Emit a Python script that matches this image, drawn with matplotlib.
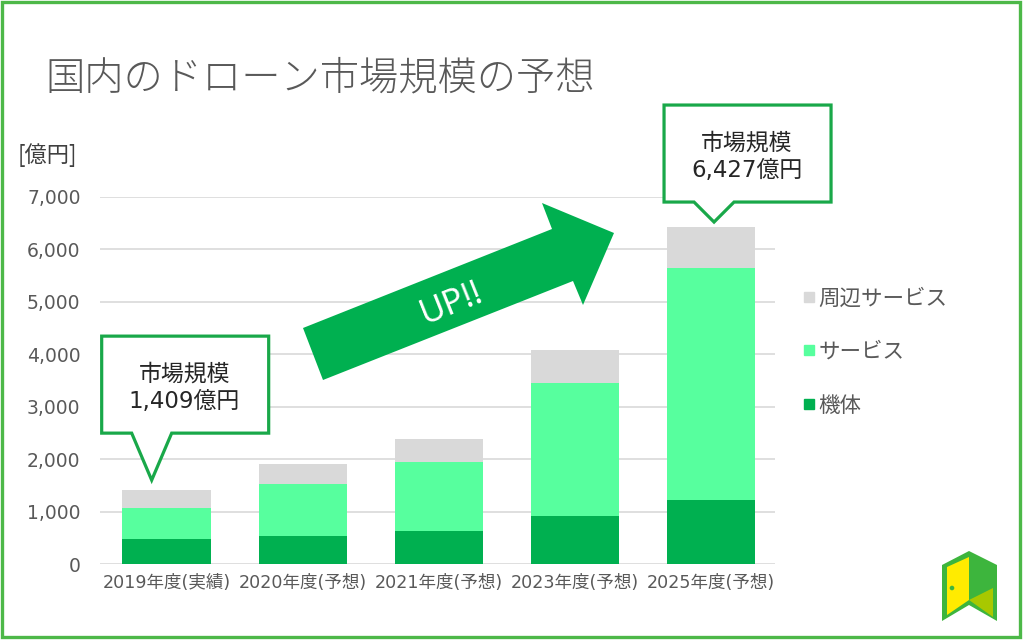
import matplotlib
matplotlib.use('Agg')
import matplotlib.pyplot as plt
from matplotlib.patches import Polygon, Rectangle, Circle
from matplotlib.lines import Line2D
from matplotlib.ticker import FuncFormatter
import numpy as np

plt.rcParams['font.family'] = ['Noto Sans CJK JP', 'DejaVu Sans']
num_font = ['DejaVu Sans', 'Noto Sans CJK JP']

# data (億円)
years = ['2019年度(実績)', '2020年度(予想)', '2021年度(予想)', '2023年度(予想)', '2025年度(予想)']
kitai = [470, 530, 620, 920, 1220]        # 機体
service = [600, 990, 1330, 2540, 4420]    # サービス
shuhen = [339, 395, 440, 630, 787]        # 周辺サービス

c_dark = '#00B050'
c_light = '#57FF9E'
c_gray = '#D9D9D9'
c_text = '#595959'
c_frame = '#4DB848'
c_call = '#19A849'

W, H = 1024, 642
fig = plt.figure(figsize=(W / 100, H / 100), dpi=100)
fig.patch.set_facecolor('white')

ax = fig.add_axes([100 / W, 1 - 564 / H, 675 / W, (564 - 197) / H])
x = np.arange(len(years))
kitai = np.array(kitai)
service = np.array(service)
shuhen = np.array(shuhen)
total = kitai + service + shuhen

ax.bar(x, kitai, width=0.65, color=c_dark, zorder=2)
ax.bar(x, service, width=0.65, bottom=kitai, color=c_light, zorder=2)
ax.bar(x, shuhen, width=0.65, bottom=kitai + service, color=c_gray, zorder=2)

ax.set_xlim(-0.49, 4.47)
ax.set_ylim(0, 7000)
ax.set_yticks(range(0, 7001, 1000))
ax.yaxis.set_major_formatter(FuncFormatter(lambda v, p: f'{int(v):,}'))
ax.set_xticks(x)
ax.set_xticklabels(years)
ax.tick_params(axis='y', length=0, pad=14, labelsize=13.5, labelcolor=c_text)
ax.tick_params(axis='x', length=0, pad=7, labelsize=12.6, labelcolor=c_text)
for lab in ax.get_yticklabels() + ax.get_xticklabels():
    lab.set_family(num_font)
ax.grid(axis='y', color='#D9D9D9', linewidth=1.2, zorder=0)
for s in ax.spines.values():
    s.set_visible(False)

handles = [Line2D([], [], marker='s', linestyle='none', markersize=7, color=c) for c in (c_gray, c_light, c_dark)]
leg = fig.legend(handles, ['周辺サービス', 'サービス', '機体'], loc='center left',
                 bbox_to_anchor=(783 / W, 1 - 352 / H), frameon=False, fontsize=15.5,
                 labelspacing=1.47, handlelength=0.6, handletextpad=0.15)
for t in leg.get_texts():
    t.set_color(c_text)

# titles
fig.text(45 / W, 1 - 78 / H, '国内のドローン市場規模の予想', fontsize=28.3, color=c_text,
         va='center', ha='left', fontweight='light')
fig.text(18 / W, 1 - 155 / H, '[億円]', fontsize=16, color='#404040', va='center', ha='left')

# overlay in pixel coordinates (y down)
ov = fig.add_axes([0, 0, 1, 1], zorder=5)
ov.set_xlim(0, W)
ov.set_ylim(H, 0)
ov.axis('off')
ov.patch.set_alpha(0)

fig.canvas.draw()


def to_px(xd, yd):
    px, py = ax.transData.transform((xd, yd))
    return px, H - py


def callout(idx, ptr_h, dx, gap):
    tx, ty = to_px(idx, total[idx])
    tx += dx
    ty -= gap
    by = ty - ptr_h
    top = by - 97
    left, right = tx - 50, tx + 117
    pts = [(left, top), (right, top), (right, by), (tx + 20, by), (tx, ty), (tx - 20, by), (left, by)]
    ov.add_patch(Polygon(pts, closed=True, facecolor='white', edgecolor=c_call, linewidth=2.3, joinstyle='miter'))
    cx = (left + right) / 2 - 1
    ov.text(cx, top + 38, '市場規模', fontsize=16.5, color='#262626', ha='center', va='center')
    ov.text(cx, top + 65, f'{total[idx]:,}億円', fontsize=16.5, color='#262626', ha='center', va='center',
            family=num_font)


callout(0, 47, -15, 10)
callout(4, 20, 3, 5)

# UP!! arrow
arrow = [(303, 328), (552, 229), (542, 203), (614, 233), (583, 305), (573, 281), (323, 380)]
ov.add_patch(Polygon(arrow, closed=True, facecolor=c_dark, edgecolor='none'))
ov.text(452, 304, 'UP!!', fontsize=25, color='white', rotation=21.8, ha='center', va='center',
        family=['Noto Sans', 'DejaVu Sans'], rotation_mode='anchor')

# frame
ov.add_patch(Rectangle((1.5, 1.5), 1018.5, 635.5, fill=False, edgecolor=c_frame, linewidth=2.4))

# logo
ov.add_patch(Polygon([(942, 565), (969, 551), (997, 565), (997, 621), (969, 605), (942, 621)],
                     closed=True, facecolor='#3DB53D', edgecolor='none'))
ov.add_patch(Polygon([(947, 567), (969, 557), (969, 600), (947, 615)], closed=True, facecolor='#FFEB00', edgecolor='none'))
ov.add_patch(Polygon([(969, 600), (993, 588), (993, 617)], closed=True, facecolor='#A8C800', edgecolor='none'))
ov.add_patch(Circle((952, 588), 2.3, facecolor='#3DB53D', edgecolor='none'))

fig.savefig('out.png', dpi=100)
